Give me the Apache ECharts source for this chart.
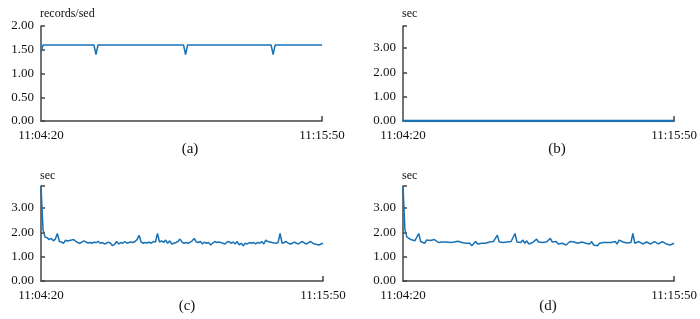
<!DOCTYPE html>
<html><head><meta charset="utf-8">
<script src="https://cdn.jsdelivr.net/npm/echarts@6/dist/echarts.min.js"></script>
<style>html,body{margin:0;padding:0;background:#fff}#c{width:700px;height:319px}</style>
</head><body><div id="c"></div>
<script>
// time categories: 11:04:20 .. 11:15:50, 5 s samples
var startLabel = '11:04:20';
var endLabel = '11:15:50';
var times = [];
(function(){var s=11*3600+4*60+20;for(var t=s;t<=11*3600+15*60+50;t+=5){var h=Math.floor(t/3600),m=Math.floor(t%3600/60),ss=t%60;times.push(h+':'+(m<10?'0':'')+m+':'+(ss<10?'0':'')+ss);}})();

// (a) records/sed
var throughput = [1.45,1.6,1.6,1.6,1.6,1.6,1.6,1.6,1.6,1.6,1.6,1.6,1.6,1.6,1.6,1.6,1.6,1.6,1.6,1.6,1.6,1.6,1.6,1.6,1.6,1.6,1.6,1.4,1.6,1.6,
1.6,1.6,1.6,1.6,1.6,1.6,1.6,1.6,1.6,1.6,1.6,1.6,1.6,1.6,1.6,1.6,1.6,1.6,1.6,1.6,1.6,1.6,1.6,1.6,1.6,1.6,1.6,1.6,1.6,1.6,
1.6,1.6,1.6,1.6,1.6,1.6,1.6,1.6,1.6,1.6,1.6,1.4,1.6,1.6,1.6,1.6,1.6,1.6,1.6,1.6,1.6,1.6,1.6,1.6,1.6,1.6,1.6,1.6,1.6,1.6,
1.6,1.6,1.6,1.6,1.6,1.6,1.6,1.6,1.6,1.6,1.6,1.6,1.6,1.6,1.6,1.6,1.6,1.6,1.6,1.6,1.6,1.6,1.6,1.6,1.4,1.6,1.6,1.6,1.6,1.6,
1.6,1.6,1.6,1.6,1.6,1.6,1.6,1.6,1.6,1.6,1.6,1.6,1.6,1.6,1.6,1.6,1.6,1.6,1.6];
// (b) sec
var delayB = [0,0,0,0,0,0,0,0,0,0,0,0,0,0,0,0,0,0,0,0,0,0,0,0,0,0,0,0,0,0,
0,0,0,0,0,0,0,0,0,0,0,0,0,0,0,0,0,0,0,0,0,0,0,0,0,0,0,0,0,0,
0,0,0,0,0,0,0,0,0,0,0,0,0,0,0,0,0,0,0,0,0,0,0,0,0,0,0,0,0,0,
0,0,0,0,0,0,0,0,0,0,0,0,0,0,0,0,0,0,0,0,0,0,0,0,0,0,0,0,0,0,
0,0,0,0,0,0,0,0,0,0,0,0,0,0,0,0,0,0,0];
// (c) sec
var delayC = [3.90,2.10,1.80,1.78,1.70,1.75,1.65,1.72,1.95,1.62,1.60,1.55,1.68,1.64,1.66,1.68,1.70,1.63,1.58,1.55,
1.60,1.65,1.60,1.56,1.58,1.55,1.60,1.57,1.63,1.55,1.58,1.52,1.55,1.60,1.55,1.45,1.50,1.62,1.52,1.58,
1.55,1.62,1.55,1.58,1.60,1.58,1.62,1.70,1.88,1.60,1.55,1.58,1.56,1.60,1.55,1.62,1.60,1.95,1.60,1.65,
1.58,1.68,1.55,1.65,1.52,1.55,1.58,1.62,1.72,1.60,1.55,1.58,1.55,1.60,1.65,1.75,1.60,1.58,1.62,1.52,
1.60,1.55,1.58,1.48,1.55,1.62,1.58,1.60,1.58,1.55,1.52,1.60,1.62,1.55,1.60,1.52,1.62,1.48,1.55,1.45,
1.55,1.52,1.58,1.55,1.58,1.52,1.58,1.55,1.62,1.52,1.68,1.62,1.60,1.58,1.56,1.55,1.58,1.95,1.55,1.58,
1.62,1.55,1.52,1.55,1.60,1.55,1.52,1.58,1.62,1.55,1.52,1.58,1.62,1.55,1.52,1.50,1.48,1.52,1.55];
// (d) sec
var delayD = [3.90,2.10,1.80,1.78,1.70,1.75,1.65,1.72,1.95,1.62,1.60,1.55,1.68,1.64,1.66,1.68,1.70,1.63,1.58,1.55,
1.60,1.65,1.60,1.56,1.58,1.55,1.60,1.57,1.63,1.55,1.58,1.52,1.55,1.60,1.55,1.45,1.50,1.62,1.52,1.58,
1.55,1.62,1.55,1.58,1.60,1.58,1.62,1.70,1.88,1.60,1.55,1.58,1.56,1.60,1.55,1.62,1.60,1.95,1.60,1.65,
1.58,1.68,1.55,1.65,1.52,1.55,1.58,1.62,1.72,1.60,1.55,1.58,1.55,1.60,1.65,1.75,1.60,1.58,1.62,1.52,
1.60,1.55,1.58,1.48,1.55,1.62,1.58,1.60,1.58,1.55,1.52,1.60,1.62,1.55,1.60,1.52,1.62,1.48,1.55,1.45,
1.55,1.52,1.58,1.55,1.58,1.52,1.58,1.55,1.62,1.52,1.68,1.62,1.60,1.58,1.56,1.55,1.58,1.95,1.55,1.58,
1.62,1.55,1.52,1.55,1.60,1.55,1.52,1.58,1.62,1.55,1.52,1.58,1.62,1.55,1.52,1.50,1.48,1.52,1.55];

var panelLabels = ['(a)','(b)','(c)','(d)'];
var axisNames = ['records/sed','sec','sec','sec'];
var yMax = [2.0, 3.9, 3.9, 3.9];
var yInterval = [0.5, 1, 1, 1];
var seriesData = [throughput, delayB, delayC, delayD];

var FONT = '"Liberation Serif","DejaVu Serif",serif';
var AXC = '#444';
var LINE = '#1872b5';
var grids = [
  {left:41, top:26, width:281, height:95},
  {left:403, top:26, width:279, height:95},
  {left:41, top:186, width:282, height:95},
  {left:403, top:186, width:275, height:95}
];
var titlePos = [[185,137],[552,137],[182,294],[543,294]];
var nameGaps = [6,6,4,4];
var last = times.length - 1;

var xAxes=[], yAxes=[], series=[], titles=[];
for (var k=0;k<4;k++){
  xAxes.push({
    gridIndex:k, type:'category', data:times, boundaryGap:false,
    axisLine:{lineStyle:{color:AXC,width:1.5}},
    axisTick:{inside:true,length:5,lineStyle:{color:AXC,width:1.5},interval:function(i){return i===last;}},
    axisLabel:{interval:function(i){return i===0||i===last;}, color:'#111', fontFamily:FONT, fontSize:13, margin:8}
  });
  (function(k){
  yAxes.push({
    gridIndex:k, type:'value', min:0, max:yMax[k], interval:yInterval[k],
    name:axisNames[k], nameLocation:'end', nameGap:nameGaps[k],
    nameTextStyle:{align:'left', color:'#111', fontFamily:FONT, fontSize:12, padding:[0,0,0,-1]},
    axisLine:{show:true,lineStyle:{color:AXC,width:1.5}},
    axisTick:{show:true,inside:true,length:4,lineStyle:{color:AXC,width:1.5}},
    splitLine:{show:false},
    axisLabel:{color:'#111', fontFamily:FONT, fontSize:13, margin:7,
      formatter:function(v){var r=Math.round(v/yInterval[k])*yInterval[k];return Math.abs(r-v)<1e-9?v.toFixed(2):'';}}
  });
  })(k);
  series.push({
    type:'line', xAxisIndex:k, yAxisIndex:k, data:seriesData[k], showSymbol:false, symbol:'none',
    lineStyle:{color:LINE,width:k===1?2.5:1.5}, animation:false
  });
  titles.push({text:panelLabels[k], left:titlePos[k][0], top:titlePos[k][1], textAlign:'center',
    textStyle:{fontFamily:FONT, fontSize:15, fontWeight:'normal', color:'#111'}});
}

var chart = echarts.init(document.getElementById('c'), null, {renderer:'canvas'});
chart.setOption({
  animation:false,
  backgroundColor:'#fff',
  title:titles,
  grid:grids,
  xAxis:xAxes,
  yAxis:yAxes,
  series:series
});
</script>
</body></html>
